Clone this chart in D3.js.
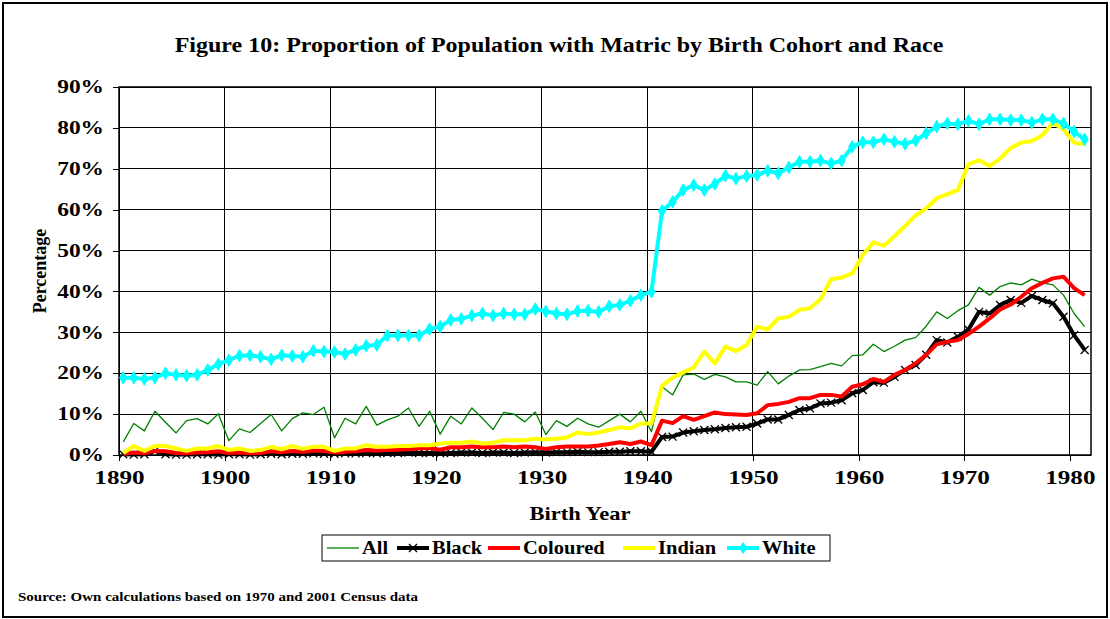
<!DOCTYPE html>
<html>
<head>
<meta charset="utf-8">
<script src="https://cdn.jsdelivr.net/npm/d3@7/dist/d3.min.js"></script>
<style>
  body { margin: 0; background: #fff; }
  svg text { font-family: "Liberation Serif", "Times New Roman", serif; font-weight: bold; fill: #000; }
</style>
</head>
<body>
<div id="chart"></div>
<script>
// Birth cohorts (one point per year)
const years = d3.range(1890, 1982);

// Percentage with matric
const allRace = [
  3.2, 7.7, 5.9, 10.7, 8.0, 5.4, 8.4, 8.9, 7.6, 10.1,
  3.5, 6.4, 5.5, 7.7, 9.9, 5.9, 8.9, 10.3, 9.9, 11.7,
  4.2, 9.0, 7.6, 11.9, 7.3, 8.6, 9.5, 11.5, 7.0, 10.7,
  5.1, 9.5, 7.6, 11.5, 9.0, 6.2, 10.4, 10.0, 8.1, 10.5,
  5.0, 8.4, 7.0, 9.0, 7.6, 6.8, 8.4, 10.0, 8.1, 10.7,
  5.7, 16.7, 14.7, 19.6, 19.8, 18.5, 19.7, 19.1, 17.9, 17.9,
  17.1, 20.4, 17.4, 19.3, 20.8, 20.9, 21.6, 22.4, 21.8, 24.3,
  24.5, 27.1, 25.3, 26.6, 28.1, 28.7, 31.5, 35.0, 33.4, 35.3,
  36.7, 41.0, 39.1, 41.2, 42.1, 41.6, 43.0, 42.1, 41.6, 39.1,
  34.6, 31.4
];
const black = [
  0.2, 0.1, 0.2, 1.0, 0.2, 0.1, 0.1, 0.2, 0.2, 0.1,
  0.2, 0.2, 0.1, 0.2, 0.3, 0.2, 0.3, 0.3, 0.4, 0.3,
  0.3, 0.4, 0.4, 0.5, 0.4, 0.5, 0.5, 0.6, 0.5, 0.5,
  0.4, 0.5, 0.6, 0.6, 0.5, 0.6, 0.6, 0.5, 0.6, 0.7,
  0.6, 0.7, 0.7, 0.8, 0.7, 0.7, 0.8, 0.8, 0.9, 0.9,
  0.8, 4.4, 4.5, 5.5, 5.8, 6.1, 6.3, 6.6, 6.8, 6.9,
  7.7, 8.7, 8.7, 9.8, 11.0, 11.4, 12.6, 12.8, 13.4, 15.1,
  15.9, 17.8, 17.7, 19.1, 20.8, 22.0, 24.5, 28.1, 27.5, 28.9,
  30.7, 35.0, 34.6, 36.7, 37.9, 37.2, 38.9, 37.9, 37.1, 33.8,
  29.3, 25.7
];
const coloured = [
  0.3, 0.6, 0.4, 1.0, 0.9, 0.5, 0.4, 0.6, 0.7, 0.9,
  0.5, 0.6, 0.4, 0.5, 0.9, 0.7, 1.0, 0.8, 1.1, 1.0,
  0.6, 0.8, 0.9, 1.2, 1.1, 1.2, 1.3, 1.4, 1.6, 1.7,
  1.3, 1.9, 1.9, 2.1, 1.9, 1.9, 2.1, 1.9, 2.1, 1.9,
  1.5, 1.9, 2.1, 2.1, 2.1, 2.3, 2.7, 3.1, 2.7, 3.3,
  2.4, 8.4, 7.8, 9.5, 8.6, 9.5, 10.4, 10.0, 9.9, 9.8,
  10.2, 12.2, 12.5, 13.0, 13.9, 13.9, 14.7, 14.7, 14.3, 16.7,
  17.3, 18.6, 17.9, 19.6, 20.8, 22.4, 24.5, 27.1, 27.7, 28.1,
  29.6, 31.4, 33.4, 35.6, 36.8, 38.7, 40.8, 42.1, 43.2, 43.6,
  40.8, 39.1
];
const indian = [
  0.5, 2.2, 1.0, 2.2, 2.2, 1.6, 1.0, 1.6, 1.6, 2.2,
  1.2, 1.6, 1.0, 1.2, 2.0, 1.4, 2.2, 1.5, 2.0, 2.0,
  1.0, 1.6, 1.6, 2.4, 2.0, 2.0, 2.2, 2.2, 2.4, 2.4,
  2.8, 3.0, 3.0, 3.3, 2.8, 3.0, 3.6, 3.6, 3.6, 4.0,
  3.8, 4.0, 4.3, 5.5, 5.1, 5.5, 6.1, 6.8, 6.5, 7.7,
  7.7, 16.9, 18.9, 20.2, 21.4, 25.3, 22.4, 26.5, 25.4, 26.9,
  31.4, 30.7, 33.4, 33.8, 35.5, 35.9, 38.1, 43.0, 43.4, 44.4,
  48.9, 52.0, 51.2, 53.5, 56.0, 58.6, 60.3, 62.8, 63.8, 64.8,
  71.1, 72.1, 70.7, 72.5, 75.1, 76.4, 76.8, 78.2, 81.3, 79.6,
  76.4, 76.0
];
const white = [
  18.9, 18.9, 18.6, 18.9, 20.0, 19.6, 19.4, 19.6, 20.8, 22.2,
  23.2, 24.3, 24.4, 24.0, 23.4, 24.4, 24.2, 24.0, 25.5, 25.3,
  25.2, 24.7, 25.7, 26.7, 26.9, 29.2, 29.2, 29.2, 29.2, 30.8,
  31.4, 33.0, 33.3, 34.1, 34.6, 34.1, 34.6, 34.4, 34.4, 35.7,
  35.1, 34.6, 34.4, 35.2, 35.3, 35.0, 36.4, 36.7, 37.7, 39.1,
  39.9, 59.7, 61.9, 64.8, 66.0, 64.8, 66.3, 68.3, 67.6, 68.2,
  68.5, 69.5, 68.9, 70.3, 71.7, 71.7, 72.0, 71.3, 72.0, 75.4,
  76.5, 76.5, 77.2, 76.6, 76.1, 76.9, 78.7, 80.3, 81.1, 80.9,
  81.7, 80.9, 82.1, 82.1, 81.9, 81.9, 81.3, 82.1, 82.1, 81.1,
  79.1, 77.2
];

const seriesNames = ["All", "Black", "Coloured", "Indian", "White"];
const xTickYears = d3.range(1890, 1990, 10);
const yTickValues = d3.range(0, 100, 10);

const W = 1110, H = 619;
const margin = {top: 87, right: 19, bottom: 164, left: 119};
const width = W - margin.left - margin.right;
const height = H - margin.top - margin.bottom;

// series styles
const styles = {
  All:      {color: "#008000", width: 1.3, marker: null},
  Black:    {color: "#000000", width: 4,   marker: "cross"},
  Coloured: {color: "#ff0000", width: 4,   marker: null},
  Indian:   {color: "#ffff00", width: 4,   marker: null},
  White:    {color: "#00ffff", width: 4,   marker: "diamond"}
};
const values = {All: allRace, Black: black, Coloured: coloured, Indian: indian, White: white};

// the original figure is stretched sideways, so text is widened around its anchor x
function stretch(sel, sx) {
  sel.attr("transform", function() {
    const x0 = +this.getAttribute("x") || 0;
    return `translate(${x0 * (1 - sx)},0) scale(${sx},1)`;
  });
}

const svg = d3.select("#chart").append("svg")
  .attr("width", W).attr("height", H);

// outer chart frame
svg.append("rect")
  .attr("x", 3).attr("y", 3).attr("width", W - 6).attr("height", H - 5)
  .attr("fill", "#fff").attr("stroke", "#000").attr("stroke-width", 2);

const x = d3.scaleLinear().domain([1890, 1982]).range([0, width]);
const y = d3.scaleLinear().domain([0, 90]).range([height, 0]);
const px = yr => x(yr + 0.4);

const g = svg.append("g").attr("transform", `translate(${margin.left},${margin.top})`);

// gridlines
g.append("g")
  .selectAll("line").data(yTickValues).join("line")
  .attr("x1", 0).attr("x2", width)
  .attr("y1", d => y(d)).attr("y2", d => y(d))
  .attr("stroke", "#000").attr("stroke-width", 1).attr("shape-rendering", "crispEdges");
g.append("g")
  .selectAll("line").data(xTickYears).join("line")
  .attr("x1", d => x(d)).attr("x2", d => x(d))
  .attr("y1", 0).attr("y2", height)
  .attr("stroke", "#000").attr("stroke-width", 1).attr("shape-rendering", "crispEdges");

// axes
const yAxis = g.append("g")
  .call(d3.axisLeft(y).tickValues(yTickValues).tickFormat(d => d + "%").tickSize(6).tickPadding(9));
const xAxis = g.append("g").attr("transform", `translate(0,${height})`)
  .call(d3.axisBottom(x).tickValues(xTickYears).tickFormat(d3.format("d")).tickSize(6).tickPadding(10));
[yAxis, xAxis].forEach(a => {
  a.select(".domain").remove();
  a.selectAll("line").attr("stroke", "#000").attr("shape-rendering", "crispEdges");
  a.selectAll("text").attr("font-size", 18).attr("font-family", null);
});
stretch(yAxis.selectAll("text"), 1.3);
stretch(xAxis.selectAll("text"), 1.4);

// plot border
g.append("rect").attr("width", width).attr("height", height)
  .attr("fill", "none").attr("stroke", "#000").attr("stroke-width", 1.5);

// lines
const line = d3.line().x((d, i) => px(years[i])).y(d => y(d));
const plot = g.append("g");
seriesNames.forEach(name => {
  const s = styles[name];
  plot.append("path")
    .datum(values[name])
    .attr("d", line)
    .attr("fill", "none")
    .attr("stroke", s.color)
    .attr("stroke-width", s.width)
    .attr("stroke-linejoin", "round");
  if (s.marker === "cross") {
    plot.append("g").selectAll("path").data(values[name]).join("path")
      .attr("transform", (d, i) => `translate(${px(years[i])},${y(d)})`)
      .attr("d", "M-4,-4L4,4M-4,4L4,-4")
      .attr("stroke", "#000").attr("stroke-width", 1.3);
  } else if (s.marker === "diamond") {
    plot.append("g").selectAll("path").data(values[name]).join("path")
      .attr("transform", (d, i) => `translate(${px(years[i])},${y(d)})`)
      .attr("d", d3.symbol(d3.symbolDiamond, 45))
      .attr("fill", s.color).attr("stroke", s.color);
  }
});

// title and axis titles
stretch(svg.append("text").attr("x", 559).attr("y", 52).attr("text-anchor", "middle")
  .attr("font-size", 20)
  .text("Figure 10: Proportion of Population with Matric by Birth Cohort and Race"), 1.2);
stretch(svg.append("text").attr("x", 580).attr("y", 520).attr("text-anchor", "middle")
  .attr("font-size", 18).text("Birth Year"), 1.25);
svg.append("text").attr("transform", "translate(46,271) rotate(-90)")
  .attr("text-anchor", "middle").attr("font-size", 18).text("Percentage");

// legend
const legend = svg.append("g");
legend.append("rect").attr("x", 322).attr("y", 535).attr("width", 508).attr("height", 26)
  .attr("fill", "#fff").attr("stroke", "#000").attr("stroke-width", 1);
const legendX = {All: 327, Black: 397, Coloured: 488, Indian: 623, White: 727};
seriesNames.forEach(name => {
  const s = styles[name];
  const lx = legendX[name], ly = 548;
  legend.append("line").attr("x1", lx).attr("x2", lx + 32).attr("y1", ly).attr("y2", ly)
    .attr("stroke", s.color).attr("stroke-width", s.width);
  if (s.marker === "cross") {
    legend.append("path").attr("transform", `translate(${lx + 16},${ly})`)
      .attr("d", "M-4,-4L4,4M-4,4L4,-4").attr("stroke", "#000").attr("stroke-width", 1.3);
  } else if (s.marker === "diamond") {
    legend.append("path").attr("transform", `translate(${lx + 16},${ly})`)
      .attr("d", d3.symbol(d3.symbolDiamond, 45)).attr("fill", s.color);
  }
  stretch(legend.append("text").attr("x", lx + 35).attr("y", ly + 6).attr("font-size", 18).text(name), 1.14);
});

// source note
stretch(svg.append("text").attr("x", 18).attr("y", 601).attr("font-size", 12)
  .text("Source: Own calculations based on 1970 and 2001 Census data"), 1.25);
</script>
</body>
</html>
